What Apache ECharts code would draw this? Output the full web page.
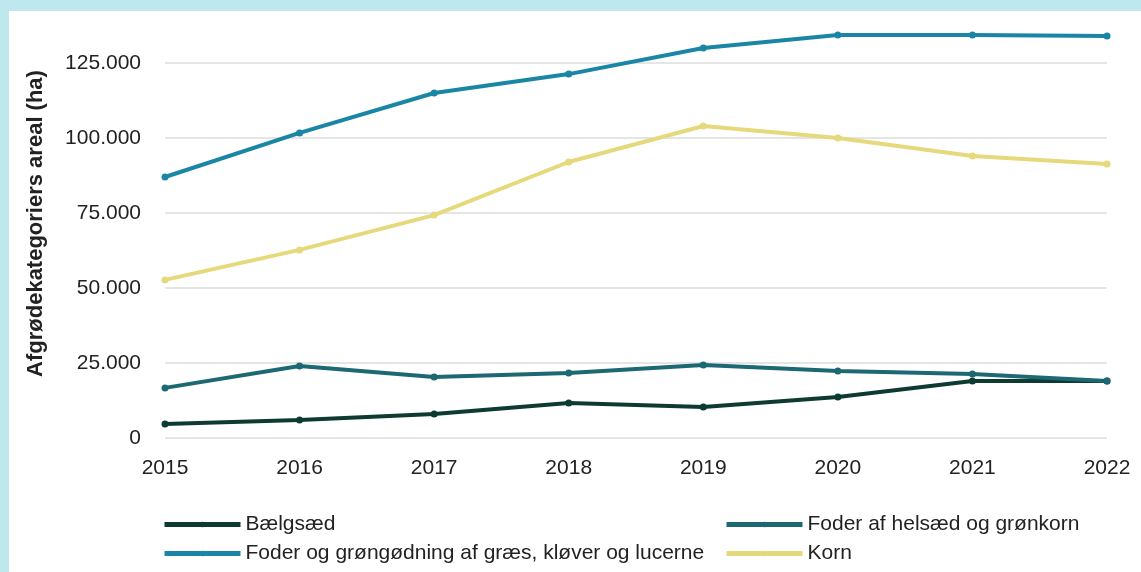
<!DOCTYPE html>
<html>
<head>
<meta charset="utf-8">
<script src="https://cdn.jsdelivr.net/npm/echarts@6/dist/echarts.min.js"></script>
<style>
  html, body { margin: 0; padding: 0; background: #bfe7ee; }
  #chart { position: absolute; left: 9px; top: 11px; width: 1132px; height: 561px; background: #fff; }
</style>
</head>
<body>
<div id="chart"></div>
<script>
const years = ['2015', '2016', '2017', '2018', '2019', '2020', '2021', '2022'];
const baelgsaed = [4700, 6000, 8000, 11700, 10300, 13700, 19000, 19000];
const foderHelsaed = [16700, 24000, 20300, 21700, 24300, 22300, 21300, 19000];
const foderGraes = [87000, 101700, 115000, 121300, 130000, 134300, 134300, 134000];
const korn = [52700, 62700, 74300, 92000, 104000, 100000, 94000, 91300];

const chart = echarts.init(document.getElementById('chart'));

function line(name, data, color) {
  return {
    name: name,
    type: 'line',
    data: data,
    clip: false,
    symbol: 'circle',
    symbolSize: 7,
    lineStyle: { width: 4, color: color },
    itemStyle: { color: color },
    emphasis: { disabled: true }
  };
}

const legendText = { fontFamily: 'Liberation Sans', fontSize: 21, color: '#222' };

chart.setOption({
  animation: false,
  grid: { left: 156, right: 34, top: 52, bottom: 134 },
  legend: [
    {
      data: ['Bælgsæd', 'Foder og grøngødning af græs, kløver og lucerne'],
      orient: 'vertical', left: 148, top: 498,
      itemWidth: 76, itemHeight: 7, itemGap: 8,
      lineStyle: { width: 5 },
      textStyle: legendText
    },
    {
      data: ['Foder af helsæd og grønkorn', 'Korn'],
      orient: 'vertical', left: 710, top: 498,
      itemWidth: 76, itemHeight: 7, itemGap: 8,
      lineStyle: { width: 5 },
      textStyle: legendText
    }
  ],
  xAxis: {
    type: 'category',
    data: years,
    boundaryGap: false,
    axisLine: { show: false },
    axisTick: { show: false },
    axisLabel: { fontFamily: 'Liberation Sans', fontSize: 21, color: '#222', margin: 20 }
  },
  yAxis: {
    type: 'value',
    min: 0,
    max: 125000,
    interval: 25000,
    name: 'Afgrødekategoriers areal (ha)',
    nameLocation: 'middle',
    nameGap: 118,
    nameTextStyle: { fontFamily: 'Liberation Sans', fontSize: 22, fontWeight: 'bold', color: '#222', padding: [0, 0, 0, 54] },
    axisLabel: {
      fontFamily: 'Liberation Sans', fontSize: 21, color: '#222', margin: 24,
      formatter: v => v === 0 ? '0' : v.toLocaleString('da-DK').replace(/,/g, '.')
    },
    splitLine: { lineStyle: { color: '#dcdcdc', width: 1.5 } }
  },
  series: [
    line('Bælgsæd', baelgsaed, '#0d3a31'),
    line('Foder af helsæd og grønkorn', foderHelsaed, '#1c6873'),
    line('Foder og grøngødning af græs, kløver og lucerne', foderGraes, '#1a86a6'),
    line('Korn', korn, '#e6d97c')
  ]
});
</script>
</body>
</html>
